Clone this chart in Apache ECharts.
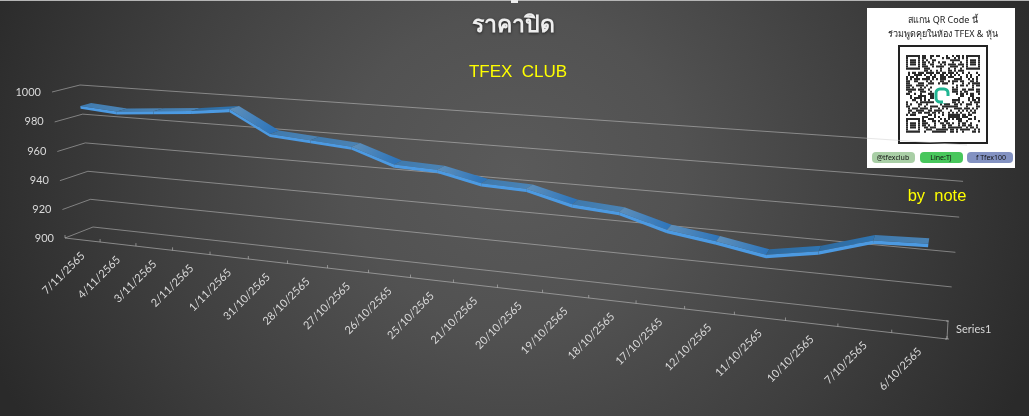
<!DOCTYPE html>
<html>
<head>
<meta charset="utf-8">
<title>TFEX CLUB</title>
<script src="https://cdn.jsdelivr.net/npm/echarts@6/dist/echarts.min.js"></script>
<style>
html, body { margin: 0; padding: 0; background: #333; }
#main {
    width: 1029px; height: 416px;
    background: radial-gradient(ellipse 560px 520px at 514px 170px, #5a5a5a 0%, #525252 30%, #3f3f3f 65%, #2a2a2a 100%);
}
</style>
</head>
<body>
<div id="main"></div>
<script>
var W = 1029, H = 416;

var categories = ['7/11/2565', '4/11/2565', '3/11/2565', '2/11/2565', '1/11/2565', '31/10/2565', '28/10/2565',
    '27/10/2565', '26/10/2565', '25/10/2565', '21/10/2565', '20/10/2565', '19/10/2565', '18/10/2565',
    '17/10/2565', '12/10/2565', '11/10/2565', '10/10/2565', '7/10/2565', '6/10/2565'];
var prices = [990, 988, 990, 992, 995, 981, 979, 977, 968, 967, 961, 960, 953, 951, 943, 939, 934, 939, 948, 949];
var yTicks = [900, 920, 940, 960, 980, 1000];

// corners of the sheared box: [u0v0, u1v0, u1v1, u0v1]
var backWall = [[93, 227], [948, 321], [967, 145], [80, 85]];
var frontPlane = [[65, 238], [947, 339], [966, 156], [52, 92]];
var ribbonFront = 0.33, ribbonBack = 0.72, ribbonDrop = 2;

function squareToQuad(q) {
    var x0 = q[0][0], y0 = q[0][1], x1 = q[1][0], y1 = q[1][1], x2 = q[2][0], y2 = q[2][1], x3 = q[3][0], y3 = q[3][1];
    var dx1 = x1 - x2, dx2 = x3 - x2, sx = x0 - x1 + x2 - x3;
    var dy1 = y1 - y2, dy2 = y3 - y2, sy = y0 - y1 + y2 - y3;
    var den = dx1 * dy2 - dx2 * dy1;
    var g = (sx * dy2 - dx2 * sy) / den, h = (dx1 * sy - sx * dy1) / den;
    return [x1 - x0 + g * x1, x3 - x0 + h * x3, x0, y1 - y0 + g * y1, y3 - y0 + h * y3, y0, g, h];
}
var backH = squareToQuad(backWall), frontH = squareToQuad(frontPlane);
function applyH(m, u, v) {
    var w = m[6] * u + m[7] * v + 1;
    return [(m[0] * u + m[1] * v + m[2]) / w, (m[3] * u + m[4] * v + m[5]) / w];
}
// u, v from the hidden grid, d = depth (0 front, 1 back wall)
function project(u, v, d) {
    var f = applyH(frontH, u, v), b = applyH(backH, u, v);
    return [f[0] + (b[0] - f[0]) * d, f[1] + (b[1] - f[1]) * d];
}
function uOf(p) { return p[0] / W; }
function vOf(p) { return 1 - p[1] / H; }

var labelFont = '11px Lato, sans-serif';
var gridColor = 'rgba(205,205,205,0.5)';
var axisColor = 'rgba(190,190,190,0.6)';

function poly(points, style) {
    return { type: 'polygon', shape: { points: points }, style: style };
}
function line(points, stroke, width) {
    return { type: 'polyline', shape: { points: points }, style: { stroke: stroke, lineWidth: width || 1, fill: null } };
}

function renderGrid(params, api) {
    var v = vOf(api.coord([0, api.value(1)]));
    return line([project(0, v, 0), project(0, v, 1), project(1, v, 1)], gridColor);
}

function renderYLabel(params, api) {
    var v = vOf(api.coord([0, api.value(1)]));
    var p = project(0, v, 0);
    return {
        type: 'text', x: p[0] - 11, y: p[1],
        style: { text: String(api.value(1)), align: 'right', verticalAlign: 'middle', fill: '#d9d9d9', font: labelFont }
    };
}

function renderXAxis(params, api) {
    var c = api.coord([api.value(0), 900]);
    var band = api.size([1, 0])[0] / W;
    var u = uOf(c), v = vOf(c);
    var t = project(u + band / 2, v, 0);
    var mid = project(u, v, 0);
    var children = [
        line([t, [t[0], t[1] - 3]], axisColor),
        {
            type: 'text', x: mid[0] + 0.5, y: mid[1] + 14, rotation: Math.PI / 4,
            style: { text: categories[params.dataIndex], align: 'right', verticalAlign: 'middle', fill: '#d9d9d9', font: labelFont }
        }
    ];
    if (params.dataIndex === 0) {
        var s = project(u - band / 2, v, 0);
        children.push(line([s, [s[0], s[1] - 3]], axisColor));
    }
    return { type: 'group', children: children };
}

function renderFloorEdge(params, api) {
    var v = vOf(api.coord([0, 900]));
    var a = project(0, v, 0), b = project(1, v, 0), c = project(1, v, 1);
    return {
        type: 'group',
        children: [
            line([a, b], axisColor),
            line([b, c], axisColor),
            line([[c[0] - 2, c[1]], [c[0] + 1, c[1]]], axisColor),
            line([[b[0] - 2, b[1]], [b[0] + 2, b[1]]], axisColor),
            {
                type: 'text', x: 956, y: 329,
                style: { text: 'Series1', align: 'left', verticalAlign: 'middle', fill: '#d9d9d9', font: labelFont }
            }
        ]
    };
}

function renderRibbon(params, api) {
    var i = params.dataIndex;
    if (i >= prices.length - 1) return null;
    var a = api.coord([i, api.value(1)]), b = api.coord([i + 1, api.value(1, i + 1)]);
    var low = api.coord([i, 900])[1] - api.coord([i, 900 + ribbonDrop])[1];
    var u0 = uOf(a), v0 = vOf(a), u1 = uOf(b), v1 = vOf(b), drop = low / H;
    var f0 = project(u0, v0, ribbonFront), f1 = project(u1, v1, ribbonFront);
    var b0 = project(u0, v0, ribbonBack), b1 = project(u1, v1, ribbonBack);
    var l0 = project(u0, v0 - drop, ribbonFront), l1 = project(u1, v1 - drop, ribbonFront);
    var falling = api.value(1) > api.value(1, i + 1) + 2;
    var rising = api.value(1) < api.value(1, i + 1) - 2;
    var from = falling ? '#5f8fb9' : rising ? '#2f6a9e' : '#3e79ad';
    var to = falling ? '#2f76bb' : rising ? '#2f74b0' : '#4a82b3';
    return {
        type: 'group',
        children: [
            poly([f0, f1, b1, b0], {
                fill: { type: 'linear', x: f0[0], y: f0[1], x2: f1[0], y2: f1[1], global: true, colorStops: [{ offset: 0, color: from }, { offset: 1, color: to }] }
            }),
            poly([l0, l1, f1, f0], { fill: '#4c9ae2' })
        ]
    };
}

// QR block on the card, fixed bit mixing
function qrCells(x0, y0, n, mw, mh) {
    var cells = [];
    function cell(c, r) {
        cells.push({ type: 'rect', x: x0 + c * mw, y: y0 + r * mh, shape: { width: mw, height: mh }, style: { fill: '#2a2a2a' } });
    }
    function finder(c, r) {
        for (var a = 0; a < 7; a++) for (var b = 0; b < 7; b++) {
            if (a === 0 || a === 6 || b === 0 || b === 6 || (a > 1 && a < 5 && b > 1 && b < 5)) cell(c + a, r + b);
        }
    }
    finder(0, 0); finder(n - 7, 0); finder(0, n - 7);
    var s = 0x2F6E2B1;
    for (var r = 0; r < n; r++) for (var c = 0; c < n; c++) {
        s ^= s << 13; s ^= s >>> 17; s ^= s << 5;
        var inF = (c < 8 && r < 8) || (c >= n - 8 && r < 8) || (c < 8 && r >= n - 8);
        var inLogo = c > 13 && c < 23 && r > 13 && r < 23;
        if (!inF && !inLogo && (s & 3) < 2) cell(c, r);
    }
    return cells;
}

var myChart = echarts.init(document.getElementById('main'));
var option = {
    backgroundColor: 'transparent',
    animation: false,
    title: {
        text: 'ราคาปิด',
        left: 508, top: 9, textAlign: 'center',
        textStyle: { color: '#eeeeee', fontSize: 23, fontWeight: 'bold', fontFamily: '"Noto Sans", "DejaVu Sans", sans-serif',
            textShadowColor: 'rgba(0,0,0,0.6)', textShadowBlur: 3, textShadowOffsetY: 1 }
    },
    grid: { left: 0, right: 0, top: 0, bottom: 0 },
    xAxis: { type: 'category', data: categories, show: false },
    yAxis: { type: 'value', min: 900, max: 1000, interval: 20, show: false },
    series: [
        { type: 'custom', clip: false, silent: true, data: yTicks.map(function (t) { return [0, t]; }), renderItem: renderGrid },
        { type: 'custom', clip: false, silent: true, data: yTicks.map(function (t) { return [0, t]; }), renderItem: renderYLabel },
        { type: 'custom', clip: false, silent: true, data: [[0, 900]], renderItem: renderFloorEdge },
        { type: 'custom', clip: false, silent: true, data: categories.map(function (c, i) { return [i, 900]; }), renderItem: renderXAxis },
        { type: 'custom', clip: false, silent: true, data: prices.map(function (p, i) { return [i, p]; }), renderItem: renderRibbon }
    ],
    graphic: [
        { type: 'rect', x: 0, y: 0, shape: { width: W, height: 1 }, style: { fill: '#b5b5b5' } },
        { type: 'rect', x: 511, y: 0, shape: { width: 7, height: 3 }, style: { fill: '#eeeeee' } },
        { type: 'text', x: 518, y: 72, style: { text: 'TFEX  CLUB', align: 'center', verticalAlign: 'middle', fill: '#ffff00', font: '17px "Liberation Sans", Arial, sans-serif' } },
        { type: 'text', x: 937, y: 196, style: { text: 'by  note', align: 'center', verticalAlign: 'middle', fill: '#ffff00', font: '16.5px "Liberation Sans", Arial, sans-serif' } },
        { type: 'rect', x: 867, y: 8, shape: { width: 148, height: 160 }, style: { fill: '#ffffff' } },
        { type: 'text', x: 943, y: 20, style: { text: 'สแกน QR Code นี้', align: 'center', verticalAlign: 'middle', fill: '#222', font: '9px "Noto Sans", sans-serif' } },
        { type: 'text', x: 943, y: 34, style: { text: 'ร่วมพูดคุยในห้อง TFEX & หุ้น', align: 'center', verticalAlign: 'middle', fill: '#222', font: '9px "Noto Sans", sans-serif' } },
        { type: 'rect', x: 899, y: 46, shape: { width: 88, height: 97 }, style: { fill: '#fff', stroke: '#222', lineWidth: 2 } },
        { type: 'group', children: qrCells(906, 55, 37, 2, 2.1) },
        { type: 'rect', x: 936, y: 89, shape: { width: 12, height: 13, r: 4 }, style: { fill: 'none', stroke: '#1fb592', lineWidth: 3 } },
        { type: 'rect', x: 943, y: 96, shape: { width: 7, height: 7 }, style: { fill: '#fff' } },
        { type: 'rect', x: 872, y: 152, shape: { width: 43, height: 11, r: 4 }, style: { fill: '#a9cfa6' } },
        { type: 'rect', x: 920, y: 152, shape: { width: 43, height: 11, r: 4 }, style: { fill: '#48c75c' } },
        { type: 'rect', x: 967, y: 152, shape: { width: 46, height: 11, r: 4 }, style: { fill: '#8392c2' } },
        { type: 'text', x: 893, y: 157.5, style: { text: '@tfexclub', align: 'center', verticalAlign: 'middle', fill: '#111', font: '7px "Noto Sans", sans-serif' } },
        { type: 'text', x: 941, y: 157.5, style: { text: 'Line:TJ', align: 'center', verticalAlign: 'middle', fill: '#111', font: '7px "Noto Sans", sans-serif' } },
        { type: 'text', x: 991, y: 157.5, style: { text: 'f Tfex100', align: 'center', verticalAlign: 'middle', fill: '#111', font: '7px "Noto Sans", sans-serif' } }
    ]
};
myChart.setOption(option);
</script>
</body>
</html>
